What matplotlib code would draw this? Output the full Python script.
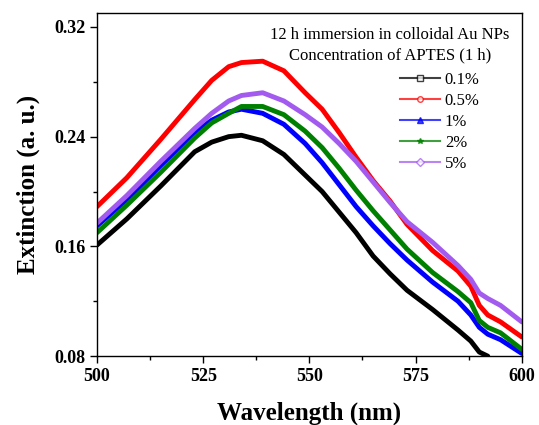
import numpy as np
import matplotlib
matplotlib.use("Agg")
import matplotlib.pyplot as plt
from matplotlib.lines import Line2D
from matplotlib.ticker import MultipleLocator

plt.rcParams['font.family'] = ['Liberation Serif', 'DejaVu Serif']

wl = [500, 507, 515, 523, 527, 531, 534, 539, 544, 549, 553, 557, 561, 565, 569, 573,
      579, 585, 588, 590, 592, 595, 600]

# extinction (a. u.) for each APTES concentration
ext_01 = [0.161, 0.180, 0.204, 0.229, 0.236, 0.240, 0.241, 0.237, 0.227, 0.212, 0.200, 0.185,
          0.170, 0.153, 0.140, 0.128, 0.114, 0.099, 0.091, 0.083, 0.080, np.nan, np.nan]
ext_05 = [0.189, 0.210, 0.238, 0.267, 0.281, 0.291, 0.294, 0.295, 0.288, 0.272, 0.260, 0.243,
          0.225, 0.208, 0.193, 0.176, 0.157, 0.142, 0.131, 0.117, 0.110, 0.105, 0.094]
ext_1 = [0.175, 0.194, 0.219, 0.243, 0.252, 0.258, 0.260, 0.257, 0.249, 0.235, 0.221, 0.205,
         0.189, 0.175, 0.162, 0.150, 0.134, 0.120, 0.110, 0.101, 0.096, 0.092, 0.082]
ext_2 = [0.170, 0.190, 0.214, 0.239, 0.250, 0.257, 0.262, 0.262, 0.256, 0.244, 0.232, 0.217,
         0.201, 0.186, 0.172, 0.158, 0.141, 0.127, 0.119, 0.106, 0.101, 0.097, 0.085]
ext_5 = [0.177, 0.197, 0.222, 0.246, 0.257, 0.266, 0.270, 0.272, 0.266, 0.256, 0.247, 0.235,
         0.222, 0.207, 0.192, 0.178, 0.163, 0.146, 0.136, 0.126, 0.122, 0.117, 0.105]

labels = ['0.1%', '0.5%', '1%', '2%', '5%']
series = [ext_01, ext_05, ext_1, ext_2, ext_5]
colors = ['black', '#ff0000', '#0000ff', '#008000', '#a35bef']
markers = ['s', 'o', '^', '*', 'D']
filled = [False, False, True, True, False]

fig = plt.figure(figsize=(5.39, 4.25), dpi=100)
ax = fig.add_axes([0.18, 0.162, 0.788, 0.807])

handles = []
for y, c, m, f, lab in zip(series, colors, markers, filled, labels):
    fc = c if f else 'white'
    ax.plot(wl, y, color=c, lw=3.5, solid_capstyle='round', solid_joinstyle='round')
    handles.append(Line2D([], [], color=c, lw=1.5, alpha=0.75, marker=m, ms=4,
                          mfc=fc, mec=c, mew=1))

ax.set_xlim(500, 600)
ax.set_ylim(0.08, 0.33)
ax.xaxis.set_major_locator(MultipleLocator(25))
ax.xaxis.set_minor_locator(MultipleLocator(12.5))
ax.yaxis.set_major_locator(MultipleLocator(0.08))
ax.yaxis.set_minor_locator(MultipleLocator(0.04))
ax.tick_params(which='major', direction='out', length=5, width=1, labelsize=13)
ax.tick_params(which='minor', direction='out', length=3, width=1)
for t in ax.get_xticklabels() + ax.get_yticklabels():
    t.set_fontweight('bold')
for s in ax.spines.values():
    s.set_linewidth(1)

ax.set_xlabel('Wavelength (nm)', fontsize=18, fontweight='bold', labelpad=12)
ax.set_ylabel('Extinction (a. u.)', fontsize=18, fontweight='bold', labelpad=10)

ax.text(0.689, 0.936, '12 h immersion in colloidal Au NPs', transform=ax.transAxes,
        ha='center', va='center', fontsize=12)
ax.text(0.689, 0.878, 'Concentration of APTES (1 h)', transform=ax.transAxes,
        ha='center', va='center', fontsize=12)

ax.legend(handles, labels, loc='upper left', bbox_to_anchor=(0.713, 0.828), frameon=False,
          fontsize=12, handlelength=2.4, handletextpad=0.3, labelspacing=0.3,
          borderpad=0, borderaxespad=0)

fig.savefig('out.png', dpi=100)
